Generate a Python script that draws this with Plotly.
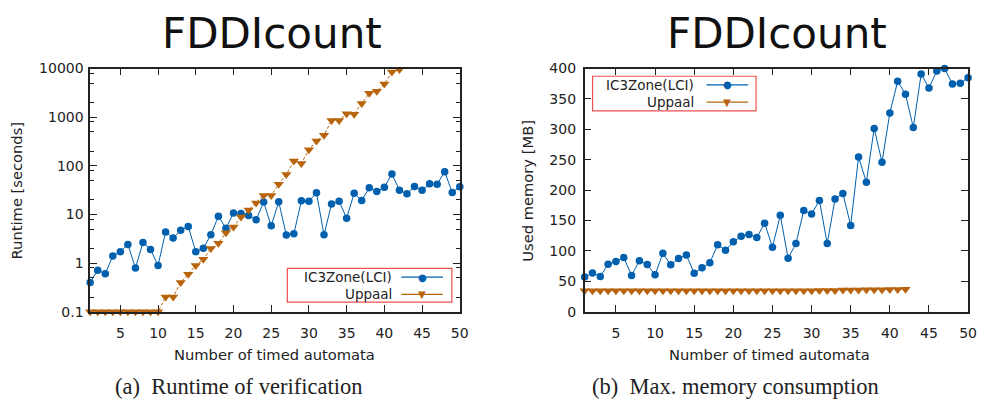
import plotly.graph_objects as go

x_ic3 = list(range(1, 51))
runtime_ic3 = [0.40, 0.71, 0.60, 1.40, 1.71, 2.42, 0.79, 2.65, 1.90, 0.89,
               4.37, 3.27, 4.71, 5.65, 1.71, 2.01, 3.81, 9.18, 5.17, 10.7,
               10.4, 9.46, 7.78, 17.9, 5.82, 18.2, 3.76, 3.99, 19.0, 18.7,
               27.8, 3.81, 16.3, 18.7, 8.37, 27.3, 19.3, 35.4, 29.5, 36.0,
               68.0, 31.4, 26.6, 37.7, 31.4, 42.5, 41.9, 75.7, 28.2, 37.1]
x_upp = list(range(1, 43))
runtime_upp = [0.1, 0.1, 0.1, 0.1, 0.1, 0.1, 0.1, 0.1, 0.1, 0.1,
               0.2, 0.2, 0.4, 0.59, 0.89, 1.2, 1.99, 2.56, 4.2, 5.5,
               8.8, 12.3, 17.1, 24.6, 24.6, 41.9, 66, 125, 112, 215,
               324, 427, 857, 857, 1178, 1150, 1915, 3100, 3400, 4830,
               8450, 9550]
memory_ic3 = [56.9, 63.7, 58, 78, 82.7, 89, 59.6, 83.8, 77.5, 60.6,
              96, 77, 87.5, 93.3, 63.2, 72.2, 80.6, 110, 101, 115,
              124, 127, 122, 145.5, 106, 158.6, 88, 112, 166.5, 160.8,
              183, 112, 185.5, 194.5, 141.8, 254.5, 213, 301.5, 246, 327,
              379, 357.8, 303, 391, 368, 396, 400, 374.7, 375.8, 385]
memory_upp = [34.3] * 30 + [35, 35, 35, 35.5, 35.5, 35.5, 36, 36, 36, 36.5, 36.5, 37]

series_names = ["IC3Zone(LCI)", "Uppaal"]
x_ticks = [5, 10, 15, 20, 25, 30, 35, 40, 45, 50]
log_ticks = [0.1, 1, 10, 100, 1000, 10000]
log_ticktext = ["0.1", "1", "10", "100", "1000", "10000"]
log_minor = [0.2, 0.5, 0.8, 2, 5, 8, 20, 50, 80, 200, 500, 800, 2000, 5000, 8000]
mem_ticks = [0, 50, 100, 150, 200, 250, 300, 350, 400]

BLUE = "#0060ad"
ORANGE = "#b8640c"
DARK = "#222222"
LEGEND_RED = "#f05050"
SANS = "DejaVu Sans"
TICKFONT = dict(family=SANS, size=14, color=DARK)

W, H = 988, 410
def px_x(v):
    return v / W
def px_y(v):
    return 1 - v / H

fig = go.Figure()

def add_pair(xa, ya, y_ic3, y_upp):
    fig.add_trace(go.Scatter(x=x_ic3, y=y_ic3, name=series_names[0], mode="lines+markers",
                             line=dict(color=BLUE, width=1),
                             marker=dict(color=BLUE, size=7.5, symbol="circle"),
                             xaxis=xa, yaxis=ya, showlegend=False, cliponaxis=False))
    fig.add_trace(go.Scatter(x=x_upp, y=y_upp, name=series_names[1], mode="lines+markers",
                             line=dict(color=ORANGE, width=1, dash="3px,2px"),
                             marker=dict(color=ORANGE, size=9, symbol="triangle-down"),
                             xaxis=xa, yaxis=ya, showlegend=False, cliponaxis=False))

add_pair("x", "y", runtime_ic3, runtime_upp)
add_pair("x2", "y2", memory_ic3, memory_upp)

yb, yt = px_y(316), px_y(63)

xaxis_common = dict(range=[1, 50], tickvals=x_ticks, ticks="inside", ticklen=7, tickcolor=DARK,
                    mirror="allticks", showline=True, linecolor=DARK, linewidth=1.5,
                    showgrid=False, zeroline=False, tickfont=TICKFONT, ticklabelstandoff=8)

fig.update_layout(
    width=W, height=H, margin=dict(l=0, r=0, t=0, b=0),
    paper_bgcolor="white", plot_bgcolor="white", showlegend=False,
    xaxis=dict(domain=[px_x(91), px_x(464)], anchor="y", **xaxis_common),
    yaxis=dict(domain=[yb, yt], anchor="x", type="log", range=[-1, 4],
               tickvals=log_ticks, ticktext=log_ticktext, ticks="inside", ticklen=7,
               tickcolor=DARK, mirror="allticks", showline=True, linecolor=DARK, linewidth=1.5,
               showgrid=False, zeroline=False, tickfont=TICKFONT, ticklabelstandoff=2,
               minor=dict(ticks="inside", ticklen=4, tickcolor=DARK, tickvals=log_minor, showgrid=False)),
    xaxis2=dict(domain=[px_x(590), px_x(977)], anchor="y2", **xaxis_common),
    yaxis2=dict(domain=[yb, yt], anchor="x2", range=[0, 400], tickvals=mem_ticks,
                ticks="inside", ticklen=7, tickcolor=DARK, mirror="allticks", showline=True,
                linecolor=DARK, linewidth=1.5, showgrid=False, zeroline=False, tickfont=TICKFONT,
                ticklabelstandoff=4),
)

annots = [
    dict(text="FDDIcount", x=px_x(275), y=px_y(27), font=dict(family=SANS, size=42, color="#111")),
    dict(text="FDDIcount", x=px_x(784), y=px_y(27), font=dict(family=SANS, size=42, color="#111")),
    dict(text="Number of timed automata", x=px_x(277), y=px_y(361), font=dict(family=SANS, size=14.7, color=DARK)),
    dict(text="Number of timed automata", x=px_x(777), y=px_y(361), font=dict(family=SANS, size=14.7, color=DARK)),
    dict(text="Runtime [seconds]", x=px_x(17), y=px_y(190), textangle=-90, font=dict(family=SANS, size=14.7, color=DARK)),
    dict(text="Used memory [MB]", x=px_x(532), y=px_y(190), textangle=-90, font=dict(family=SANS, size=14.7, color=DARK)),
    dict(text="(a)\u00a0\u00a0Runtime of verification", x=px_x(241), y=px_y(394), font=dict(family="Liberation Serif", size=22.5, color=DARK)),
    dict(text="(b)\u00a0\u00a0Max. memory consumption", x=px_x(742), y=px_y(394), font=dict(family="Liberation Serif", size=22.5, color=DARK)),
]
for a in annots:
    fig.add_annotation(xref="paper", yref="paper", showarrow=False, xanchor="center", yanchor="middle", **a)

# custom legends (gnuplot style: text right-aligned, sample on the right)
def add_legend(box, text_right, row_y, line_x0, line_x1):
    x0, y0, x1, y1 = box
    fig.add_shape(type="rect", xref="paper", yref="paper",
                  x0=px_x(x0), x1=px_x(x1), y0=px_y(y1), y1=px_y(y0),
                  line=dict(color=LEGEND_RED, width=1.2), fillcolor="white", layer="above")
    styles = [(BLUE, "\u25cf", 10), (ORANGE, "\u25bc", 10)]
    for name, ry, (col, glyph, gsize) in zip(series_names, row_y, styles):
        fig.add_annotation(xref="paper", yref="paper", showarrow=False, text=name,
                           x=px_x(text_right), y=px_y(ry), xanchor="right", yanchor="middle",
                           font=dict(family=SANS, size=13.5, color=DARK))
        fig.add_shape(type="line", xref="paper", yref="paper", layer="above",
                      x0=px_x(line_x0), x1=px_x(line_x1), y0=px_y(ry), y1=px_y(ry),
                      line=dict(color=col, width=1.2))
        fig.add_annotation(xref="paper", yref="paper", showarrow=False, text=glyph,
                           x=px_x((line_x0 + line_x1) / 2), y=px_y(ry), xanchor="center", yanchor="middle",
                           font=dict(family=SANS, size=gsize, color=col))

add_legend((290, 271, 456, 306), 398, (280, 298), 405, 447)
add_legend((598, 71, 763, 107), 702, (80, 98), 713, 755)

fig.write_html("out.html")
